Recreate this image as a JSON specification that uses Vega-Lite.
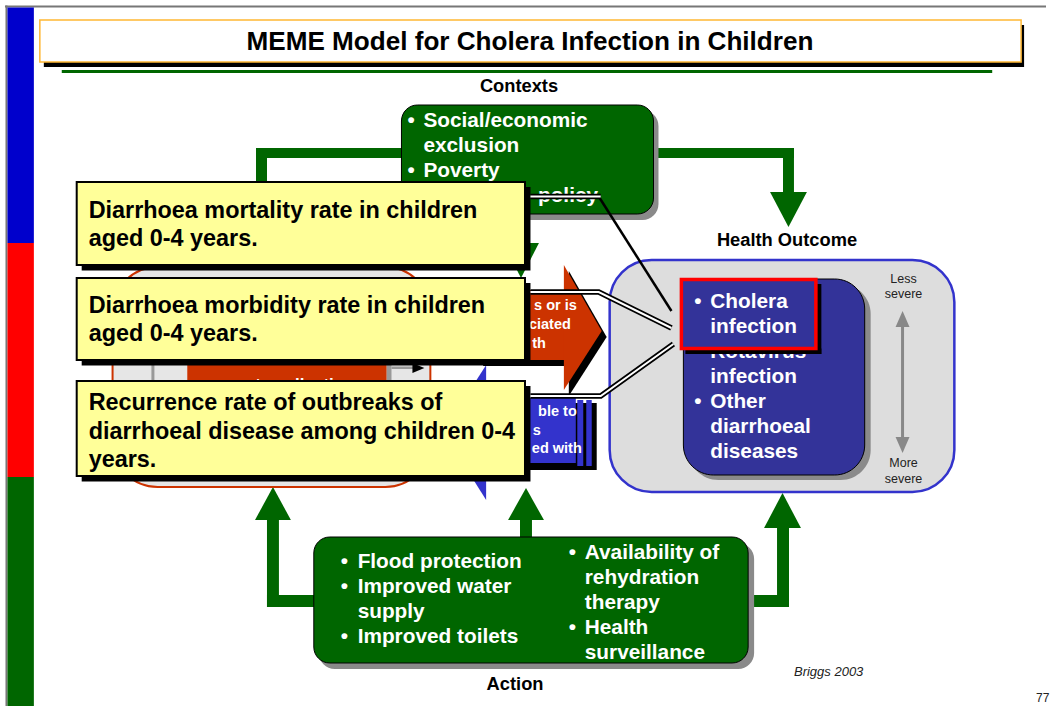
{
  "$schema": "https://vega.github.io/schema/vega-lite/v6.json",
  "width": 1050,
  "height": 706,
  "autosize": {"type": "fit", "contains": "padding"},
  "padding": 0,
  "background": "white",
  "config": {"view": {"stroke": null}},
  "datasets": {
    "flat": [
      {"x": 5, "x2": 1050, "y": 5.5, "y2": 7.5, "part": "frame"},
      {"x": 5.5, "x2": 7.5, "y": 5.5, "y2": 706, "part": "frame"},
      {"x": 7.5, "x2": 34, "y": 7.5, "y2": 243, "part": "band blue"},
      {"x": 7.5, "x2": 34, "y": 243, "y2": 477, "part": "band red"},
      {"x": 7.5, "x2": 34, "y": 477, "y2": 706, "part": "band green"},
      {"x": 44, "x2": 1028, "y": 25, "y2": 67, "part": "shadow"},
      {"x": 62, "x2": 996, "y": 70, "y2": 73, "part": "connector"},
      {"x": 257, "x2": 410, "y": 148, "y2": 158, "part": "connector"},
      {"x": 257, "x2": 268, "y": 148, "y2": 200, "part": "connector"},
      {"x": 650, "x2": 797, "y": 148, "y2": 158, "part": "connector"},
      {"x": 786, "x2": 797, "y": 148, "y2": 193, "part": "connector"},
      {"x": 517, "x2": 529, "y": 210, "y2": 244, "part": "connector"},
      {"x": 268, "x2": 320, "y": 595, "y2": 607, "part": "connector"},
      {"x": 268, "x2": 280, "y": 519, "y2": 607, "part": "connector"},
      {"x": 522, "x2": 534, "y": 519, "y2": 542, "part": "connector"},
      {"x": 745, "x2": 792, "y": 595, "y2": 607, "part": "connector"},
      {"x": 780, "x2": 792, "y": 527, "y2": 607, "part": "connector"}
    ],
    "titleBox": [
      {"x": 40, "x2": 1025, "y": 20, "y2": 62, "part": "title"}
    ],
    "triLow": [
      {"id": "h1", "x": 773, "y": 192, "y2": 192, "part": "connector"},
      {"id": "h1", "x": 791.5, "y": 227, "y2": 192, "part": "connector"},
      {"id": "h1", "x": 810, "y": 192, "y2": 192, "part": "connector"},
      {"id": "h2", "x": 505, "y": 243, "y2": 243, "part": "connector"},
      {"id": "h2", "x": 523, "y": 278, "y2": 243, "part": "connector"},
      {"id": "h2", "x": 541, "y": 243, "y2": 243, "part": "connector"},
      {"id": "h3", "x": 256, "y": 520, "y2": 520, "part": "connector"},
      {"id": "h3", "x": 274, "y": 487, "y2": 520, "part": "connector"},
      {"id": "h3", "x": 292, "y": 520, "y2": 520, "part": "connector"},
      {"id": "h4", "x": 510, "y": 520, "y2": 520, "part": "connector"},
      {"id": "h4", "x": 528, "y": 488, "y2": 520, "part": "connector"},
      {"id": "h4", "x": 546, "y": 520, "y2": 520, "part": "connector"},
      {"id": "h5", "x": 767, "y": 528, "y2": 528, "part": "connector"},
      {"id": "h5", "x": 785.5, "y": 493, "y2": 528, "part": "connector"},
      {"id": "h5", "x": 804, "y": 528, "y2": 528, "part": "connector"},
      {"id": "hs", "x": 571, "y": 271, "y2": 396, "part": "shadow"},
      {"id": "hs", "x": 609, "y": 337, "y2": 337, "part": "shadow"},
      {"id": "eb", "x": 445, "y": 432, "y2": 432, "part": "exposure"},
      {"id": "eb", "x": 488, "y": 365, "y2": 500, "part": "exposure"}
    ],
    "roundShadow": [
      {"x": 408, "x2": 661, "y": 110, "y2": 220, "part": "box shadow"},
      {"x": 320, "x2": 757, "y": 543, "y2": 669, "part": "box shadow"}
    ],
    "greenBoxes": [
      {"x": 403, "x2": 656, "y": 105, "y2": 214, "part": "context"},
      {"x": 315, "x2": 751, "y": 537, "y2": 663, "part": "context"}
    ],
    "panel": [
      {"x": 612, "x2": 958, "y": 260, "y2": 492, "part": "panel"}
    ],
    "listShadow": [
      {"x": 691, "x2": 874, "y": 284, "y2": 480, "part": "box shadow"}
    ],
    "list": [
      {"x": 686, "x2": 868, "y": 279, "y2": 475, "part": "outcome"}
    ],
    "environment": [
      {"x": 113, "x2": 432, "y": 267, "y2": 487, "part": "environment"}
    ],
    "flatMid": [
      {"x": 152, "x2": 155, "y": 290, "y2": 465, "part": "divider"},
      {"x": 388, "x2": 393, "y": 290, "y2": 465, "part": "divider"},
      {"x": 188, "x2": 388, "y": 290, "y2": 465, "part": "hazard"},
      {"x": 393, "x2": 416, "y": 366.5, "y2": 369, "part": "divider"},
      {"x": 485, "x2": 572, "y": 296, "y2": 366, "part": "shadow"},
      {"x": 480, "x2": 567, "y": 290, "y2": 360, "part": "hazard"},
      {"x": 532, "x2": 599, "y": 403, "y2": 470, "part": "shadow"},
      {"x": 488, "x2": 578, "y": 398, "y2": 463, "part": "exposure"},
      {"x": 579.5, "x2": 585.5, "y": 400, "y2": 466, "part": "exposure"},
      {"x": 588.5, "x2": 594, "y": 400, "y2": 466, "part": "exposure"},
      {"x": 904.5, "x2": 907.5, "y": 322, "y2": 442, "part": "severity"}
    ],
    "triHigh": [
      {"id": "hz", "x": 566, "y": 265, "y2": 390, "part": "hazard"},
      {"id": "hz", "x": 604, "y": 331, "y2": 331, "part": "hazard"},
      {"id": "s1", "x": 899, "y": 327, "y2": 327, "part": "severity"},
      {"id": "s1", "x": 906, "y": 311, "y2": 327, "part": "severity"},
      {"id": "s1", "x": 913, "y": 327, "y2": 327, "part": "severity"},
      {"id": "s2", "x": 899, "y": 437, "y2": 437, "part": "severity"},
      {"id": "s2", "x": 906, "y": 453, "y2": 437, "part": "severity"},
      {"id": "s2", "x": 913, "y": 437, "y2": 437, "part": "severity"},
      {"id": "ea", "x": 414, "y": 363, "y2": 373, "part": "shadow"},
      {"id": "ea", "x": 426, "y": 368, "y2": 368, "part": "shadow"}
    ],
    "bodyText": [
      {"x": 409, "y": 121, "text": "•"},
      {"x": 425, "y": 121, "text": "Social/economic"},
      {"x": 425, "y": 146, "text": "exclusion"},
      {"x": 409, "y": 171, "text": "•"},
      {"x": 425, "y": 171, "text": "Poverty"},
      {"x": 540, "y": 196, "text": "policy"},
      {"x": 697, "y": 352, "text": "•"},
      {"x": 713, "y": 352, "text": "Rotavirus"},
      {"x": 713, "y": 377, "text": "infection"},
      {"x": 697, "y": 402, "text": "•"},
      {"x": 713, "y": 402, "text": "Other"},
      {"x": 713, "y": 427, "text": "diarrhoeal"},
      {"x": 713, "y": 452, "text": "diseases"},
      {"x": 342, "y": 562, "text": "•"},
      {"x": 359, "y": 562, "text": "Flood protection"},
      {"x": 342, "y": 587, "text": "•"},
      {"x": 359, "y": 587, "text": "Improved water"},
      {"x": 359, "y": 612, "text": "supply"},
      {"x": 342, "y": 637, "text": "•"},
      {"x": 359, "y": 637, "text": "Improved toilets"},
      {"x": 571, "y": 553, "text": "•"},
      {"x": 587, "y": 553, "text": "Availability of"},
      {"x": 587, "y": 578, "text": "rehydration"},
      {"x": 587, "y": 603, "text": "therapy"},
      {"x": 571, "y": 628, "text": "•"},
      {"x": 587, "y": 628, "text": "Health"},
      {"x": 587, "y": 653, "text": "surveillance"}
    ],
    "arrowText": [
      {"x": 579, "y": 306, "text": "s or is"},
      {"x": 573, "y": 325, "text": "ciated"},
      {"x": 548, "y": 344, "text": "th"},
      {"x": 579, "y": 412, "text": "ble to"},
      {"x": 543, "y": 431, "text": "s"},
      {"x": 584, "y": 449, "text": "ed with"}
    ],
    "envText": [
      {"x": 290, "y": 385, "text": "waste collection"}
    ],
    "severityText": [
      {"x": 907, "y": 279, "text": "Less"},
      {"x": 907, "y": 294, "text": "severe"},
      {"x": 907, "y": 463, "text": "More"},
      {"x": 907, "y": 479, "text": "severe"}
    ],
    "calloutShadow": [
      {"x": 82, "x2": 532.5, "y": 187, "y2": 270.5, "part": "shadow"},
      {"x": 82, "x2": 532.5, "y": 283, "y2": 365.5, "part": "shadow"},
      {"x": 82, "x2": 532.5, "y": 386, "y2": 481.5, "part": "shadow"}
    ],
    "callouts": [
      {"x": 77, "x2": 527, "y": 182, "y2": 265, "part": "callout"},
      {"x": 77, "x2": 527, "y": 278, "y2": 360, "part": "callout"},
      {"x": 77, "x2": 527, "y": 381, "y2": 476, "part": "callout"}
    ],
    "calloutText": [
      {"x": 89, "y": 210.5, "text": "Diarrhoea mortality rate in children"},
      {"x": 89, "y": 238.5, "text": "aged 0-4 years."},
      {"x": 89, "y": 306, "text": "Diarrhoea morbidity rate in children"},
      {"x": 89, "y": 334, "text": "aged 0-4 years."},
      {"x": 89, "y": 403, "text": "Recurrence rate of outbreaks of"},
      {"x": 89, "y": 431.5, "text": "diarrhoeal disease among children 0-4"},
      {"x": 89, "y": 460, "text": "years."}
    ],
    "linesDouble": [
      {"id": "a", "x": 532.5, "y": 196.5},
      {"id": "a", "x": 603, "y": 196.5},
      {"id": "b", "x": 532.5, "y": 292},
      {"id": "b", "x": 601, "y": 292},
      {"id": "b", "x": 674, "y": 328},
      {"id": "c", "x": 532.5, "y": 396},
      {"id": "c", "x": 603, "y": 396},
      {"id": "c", "x": 676, "y": 344}
    ],
    "linesSingle": [
      {"id": "a", "x": 601, "y": 196.5},
      {"id": "a", "x": 674, "y": 311}
    ],
    "highlightShadow": [
      {"x": 819, "x2": 824.5, "y": 284, "y2": 354},
      {"x": 688, "x2": 824.5, "y": 348.5, "y2": 354}
    ],
    "highlight": [
      {"x": 684, "x2": 819, "y": 279.5, "y2": 348.5, "part": "outcome"}
    ],
    "highlightText": [
      {"x": 697, "y": 302, "text": "•"},
      {"x": 713, "y": 302, "text": "Cholera"},
      {"x": 713, "y": 327, "text": "infection"}
    ],
    "titleText": [
      {"x": 532, "y": 42, "text": "MEME Model for Cholera Infection in Children"}
    ],
    "labelText": [
      {"x": 521, "y": 87, "text": "Contexts"},
      {"x": 790, "y": 241, "text": "Health Outcome"},
      {"x": 517, "y": 685, "text": "Action"}
    ],
    "sourceText": [
      {"x": 797, "y": 672, "text": "Briggs 2003"}
    ],
    "pageText": [
      {"x": 1040, "y": 698, "text": "77"}
    ]
  },
  "encoding": {
    "x": {"field": "x", "type": "quantitative", "scale": {"domain": [0, 1050], "nice": false, "zero": false}, "axis": null},
    "y": {"field": "y", "type": "quantitative", "scale": {"domain": [0, 706], "nice": false, "zero": false, "reverse": true}, "axis": null}
  },
  "layer": [
    {
      "data": {"name": "flat"},
      "mark": {"type": "rect"},
      "encoding": {
        "x2": {"field": "x2"}, "y2": {"field": "y2"},
        "color": {"field": "part", "type": "nominal", "legend": null, "scale": {"domain": ["frame","band blue","band red","band green","shadow","connector","box shadow","context","panel","outcome","environment","divider","hazard","exposure","severity","callout","title"], "range": ["#777777","#0000CC","#FF0000","#006600","#000000","#006600","#8A8A8A","#006600","#DDDDDD","#333399","#E6E6E6","#999999","#CC3300","#3333CC","#888888","#FFFF99","#FFFFFF"]}}
      }
    },
    {
      "data": {"name": "titleBox"},
      "mark": {"type": "rect", "stroke": "#FFB833", "strokeWidth": 1.5},
      "encoding": {
        "x2": {"field": "x2"}, "y2": {"field": "y2"},
        "color": {"field": "part", "type": "nominal", "legend": null, "scale": {"domain": ["frame","band blue","band red","band green","shadow","connector","box shadow","context","panel","outcome","environment","divider","hazard","exposure","severity","callout","title"], "range": ["#777777","#0000CC","#FF0000","#006600","#000000","#006600","#8A8A8A","#006600","#DDDDDD","#333399","#E6E6E6","#999999","#CC3300","#3333CC","#888888","#FFFF99","#FFFFFF"]}}
      }
    },
    {
      "data": {"name": "triLow"},
      "mark": {"type": "area", "orient": "vertical"},
      "encoding": {
        "y": {"field": "y", "type": "quantitative", "stack": null, "scale": {"domain": [0, 706], "nice": false, "zero": false, "reverse": true}, "axis": null},
        "y2": {"field": "y2"},
        "detail": {"field": "id"},
        "color": {"field": "part", "type": "nominal", "legend": null, "scale": {"domain": ["frame","band blue","band red","band green","shadow","connector","box shadow","context","panel","outcome","environment","divider","hazard","exposure","severity","callout","title"], "range": ["#777777","#0000CC","#FF0000","#006600","#000000","#006600","#8A8A8A","#006600","#DDDDDD","#333399","#E6E6E6","#999999","#CC3300","#3333CC","#888888","#FFFF99","#FFFFFF"]}}
      }
    },
    {
      "data": {"name": "roundShadow"},
      "mark": {"type": "rect", "cornerRadius": 16},
      "encoding": {
        "x2": {"field": "x2"}, "y2": {"field": "y2"},
        "color": {"field": "part", "type": "nominal", "legend": null, "scale": {"domain": ["frame","band blue","band red","band green","shadow","connector","box shadow","context","panel","outcome","environment","divider","hazard","exposure","severity","callout","title"], "range": ["#777777","#0000CC","#FF0000","#006600","#000000","#006600","#8A8A8A","#006600","#DDDDDD","#333399","#E6E6E6","#999999","#CC3300","#3333CC","#888888","#FFFF99","#FFFFFF"]}}
      }
    },
    {
      "data": {"name": "greenBoxes"},
      "mark": {"type": "rect", "cornerRadius": 16, "stroke": "#000000", "strokeWidth": 1},
      "encoding": {
        "x2": {"field": "x2"}, "y2": {"field": "y2"},
        "color": {"field": "part", "type": "nominal", "legend": null, "scale": {"domain": ["frame","band blue","band red","band green","shadow","connector","box shadow","context","panel","outcome","environment","divider","hazard","exposure","severity","callout","title"], "range": ["#777777","#0000CC","#FF0000","#006600","#000000","#006600","#8A8A8A","#006600","#DDDDDD","#333399","#E6E6E6","#999999","#CC3300","#3333CC","#888888","#FFFF99","#FFFFFF"]}}
      }
    },
    {
      "data": {"name": "panel"},
      "mark": {"type": "rect", "cornerRadius": 42, "stroke": "#3333CC", "strokeWidth": 2.5},
      "encoding": {
        "x2": {"field": "x2"}, "y2": {"field": "y2"},
        "color": {"field": "part", "type": "nominal", "legend": null, "scale": {"domain": ["frame","band blue","band red","band green","shadow","connector","box shadow","context","panel","outcome","environment","divider","hazard","exposure","severity","callout","title"], "range": ["#777777","#0000CC","#FF0000","#006600","#000000","#006600","#8A8A8A","#006600","#DDDDDD","#333399","#E6E6E6","#999999","#CC3300","#3333CC","#888888","#FFFF99","#FFFFFF"]}}
      }
    },
    {
      "data": {"name": "listShadow"},
      "mark": {"type": "rect", "cornerRadius": 30},
      "encoding": {
        "x2": {"field": "x2"}, "y2": {"field": "y2"},
        "color": {"field": "part", "type": "nominal", "legend": null, "scale": {"domain": ["frame","band blue","band red","band green","shadow","connector","box shadow","context","panel","outcome","environment","divider","hazard","exposure","severity","callout","title"], "range": ["#777777","#0000CC","#FF0000","#006600","#000000","#006600","#8A8A8A","#006600","#DDDDDD","#333399","#E6E6E6","#999999","#CC3300","#3333CC","#888888","#FFFF99","#FFFFFF"]}}
      }
    },
    {
      "data": {"name": "list"},
      "mark": {"type": "rect", "cornerRadius": 30, "stroke": "#000000", "strokeWidth": 1},
      "encoding": {
        "x2": {"field": "x2"}, "y2": {"field": "y2"},
        "color": {"field": "part", "type": "nominal", "legend": null, "scale": {"domain": ["frame","band blue","band red","band green","shadow","connector","box shadow","context","panel","outcome","environment","divider","hazard","exposure","severity","callout","title"], "range": ["#777777","#0000CC","#FF0000","#006600","#000000","#006600","#8A8A8A","#006600","#DDDDDD","#333399","#E6E6E6","#999999","#CC3300","#3333CC","#888888","#FFFF99","#FFFFFF"]}}
      }
    },
    {
      "data": {"name": "environment"},
      "mark": {"type": "rect", "cornerRadius": 45, "stroke": "#CC3300", "strokeWidth": 2},
      "encoding": {
        "x2": {"field": "x2"}, "y2": {"field": "y2"},
        "color": {"field": "part", "type": "nominal", "legend": null, "scale": {"domain": ["frame","band blue","band red","band green","shadow","connector","box shadow","context","panel","outcome","environment","divider","hazard","exposure","severity","callout","title"], "range": ["#777777","#0000CC","#FF0000","#006600","#000000","#006600","#8A8A8A","#006600","#DDDDDD","#333399","#E6E6E6","#999999","#CC3300","#3333CC","#888888","#FFFF99","#FFFFFF"]}}
      }
    },
    {
      "data": {"name": "flatMid"},
      "mark": {"type": "rect"},
      "encoding": {
        "x2": {"field": "x2"}, "y2": {"field": "y2"},
        "color": {"field": "part", "type": "nominal", "legend": null, "scale": {"domain": ["frame","band blue","band red","band green","shadow","connector","box shadow","context","panel","outcome","environment","divider","hazard","exposure","severity","callout","title"], "range": ["#777777","#0000CC","#FF0000","#006600","#000000","#006600","#8A8A8A","#006600","#DDDDDD","#333399","#E6E6E6","#999999","#CC3300","#3333CC","#888888","#FFFF99","#FFFFFF"]}}
      }
    },
    {
      "data": {"name": "triHigh"},
      "mark": {"type": "area", "orient": "vertical"},
      "encoding": {
        "y": {"field": "y", "type": "quantitative", "stack": null, "scale": {"domain": [0, 706], "nice": false, "zero": false, "reverse": true}, "axis": null},
        "y2": {"field": "y2"},
        "detail": {"field": "id"},
        "color": {"field": "part", "type": "nominal", "legend": null, "scale": {"domain": ["frame","band blue","band red","band green","shadow","connector","box shadow","context","panel","outcome","environment","divider","hazard","exposure","severity","callout","title"], "range": ["#777777","#0000CC","#FF0000","#006600","#000000","#006600","#8A8A8A","#006600","#DDDDDD","#333399","#E6E6E6","#999999","#CC3300","#3333CC","#888888","#FFFF99","#FFFFFF"]}}
      }
    },
    {
      "data": {"name": "bodyText"},
      "mark": {"type": "text", "align": "left", "baseline": "middle", "font": "Liberation Sans", "fontWeight": "bold", "fontSize": 20.8, "color": "#FFFFFF"},
      "encoding": {"text": {"field": "text"}}
    },
    {
      "data": {"name": "arrowText"},
      "mark": {"type": "text", "align": "right", "baseline": "middle", "font": "Liberation Sans", "fontWeight": "bold", "fontSize": 14.5, "color": "#FFFFFF"},
      "encoding": {"text": {"field": "text"}}
    },
    {
      "data": {"name": "envText"},
      "mark": {"type": "text", "align": "center", "baseline": "middle", "font": "Liberation Sans", "fontWeight": "bold", "fontSize": 17, "color": "#FFFFFF"},
      "encoding": {"text": {"field": "text"}}
    },
    {
      "data": {"name": "severityText"},
      "mark": {"type": "text", "align": "center", "baseline": "middle", "font": "Liberation Sans", "fontSize": 12.5, "color": "#222222"},
      "encoding": {"text": {"field": "text"}}
    },
    {
      "data": {"name": "calloutShadow"},
      "mark": {"type": "rect"},
      "encoding": {
        "x2": {"field": "x2"}, "y2": {"field": "y2"},
        "color": {"field": "part", "type": "nominal", "legend": null, "scale": {"domain": ["frame","band blue","band red","band green","shadow","connector","box shadow","context","panel","outcome","environment","divider","hazard","exposure","severity","callout","title"], "range": ["#777777","#0000CC","#FF0000","#006600","#000000","#006600","#8A8A8A","#006600","#DDDDDD","#333399","#E6E6E6","#999999","#CC3300","#3333CC","#888888","#FFFF99","#FFFFFF"]}}
      }
    },
    {
      "data": {"name": "callouts"},
      "mark": {"type": "rect", "stroke": "#000000", "strokeWidth": 2},
      "encoding": {
        "x2": {"field": "x2"}, "y2": {"field": "y2"},
        "color": {"field": "part", "type": "nominal", "legend": null, "scale": {"domain": ["frame","band blue","band red","band green","shadow","connector","box shadow","context","panel","outcome","environment","divider","hazard","exposure","severity","callout","title"], "range": ["#777777","#0000CC","#FF0000","#006600","#000000","#006600","#8A8A8A","#006600","#DDDDDD","#333399","#E6E6E6","#999999","#CC3300","#3333CC","#888888","#FFFF99","#FFFFFF"]}}
      }
    },
    {
      "data": {"name": "calloutText"},
      "mark": {"type": "text", "align": "left", "baseline": "middle", "font": "Liberation Sans", "fontWeight": "bold", "fontSize": 23.4, "color": "#000000"},
      "encoding": {"text": {"field": "text"}}
    },
    {
      "data": {"name": "linesSingle"},
      "mark": {"type": "line", "color": "#000000", "strokeWidth": 2.5, "strokeCap": "butt"},
      "encoding": {"detail": {"field": "id"}}
    },
    {
      "data": {"name": "linesDouble"},
      "mark": {"type": "line", "color": "#000000", "strokeWidth": 5.5, "strokeCap": "butt", "strokeJoin": "miter"},
      "encoding": {"detail": {"field": "id"}}
    },
    {
      "data": {"name": "linesDouble"},
      "mark": {"type": "line", "color": "#FFFFFF", "strokeWidth": 2, "strokeCap": "butt", "strokeJoin": "miter"},
      "encoding": {"detail": {"field": "id"}}
    },
    {
      "data": {"name": "highlightShadow"},
      "mark": {"type": "rect", "color": "#000000"},
      "encoding": {"x2": {"field": "x2"}, "y2": {"field": "y2"}}
    },
    {
      "data": {"name": "highlight"},
      "mark": {"type": "rect", "stroke": "#FF0000", "strokeWidth": 3.5},
      "encoding": {
        "x2": {"field": "x2"}, "y2": {"field": "y2"},
        "color": {"field": "part", "type": "nominal", "legend": null, "scale": {"domain": ["frame","band blue","band red","band green","shadow","connector","box shadow","context","panel","outcome","environment","divider","hazard","exposure","severity","callout","title"], "range": ["#777777","#0000CC","#FF0000","#006600","#000000","#006600","#8A8A8A","#006600","#DDDDDD","#333399","#E6E6E6","#999999","#CC3300","#3333CC","#888888","#FFFF99","#FFFFFF"]}}
      }
    },
    {
      "data": {"name": "highlightText"},
      "mark": {"type": "text", "align": "left", "baseline": "middle", "font": "Liberation Sans", "fontWeight": "bold", "fontSize": 20.8, "color": "#FFFFFF"},
      "encoding": {"text": {"field": "text"}}
    },
    {
      "data": {"name": "titleText"},
      "mark": {"type": "text", "align": "center", "baseline": "middle", "font": "Liberation Sans", "fontWeight": "bold", "fontSize": 26.1, "color": "#000000"},
      "encoding": {"text": {"field": "text"}}
    },
    {
      "data": {"name": "labelText"},
      "mark": {"type": "text", "align": "center", "baseline": "middle", "font": "Liberation Sans", "fontWeight": "bold", "fontSize": 18.3, "color": "#000000"},
      "encoding": {"text": {"field": "text"}}
    },
    {
      "data": {"name": "sourceText"},
      "mark": {"type": "text", "align": "left", "baseline": "middle", "font": "Liberation Sans", "fontStyle": "italic", "fontSize": 13, "color": "#222222"},
      "encoding": {"text": {"field": "text"}}
    },
    {
      "data": {"name": "pageText"},
      "mark": {"type": "text", "align": "left", "baseline": "middle", "font": "Liberation Sans", "fontSize": 12, "color": "#222222"},
      "encoding": {"text": {"field": "text"}}
    }
  ]
}
